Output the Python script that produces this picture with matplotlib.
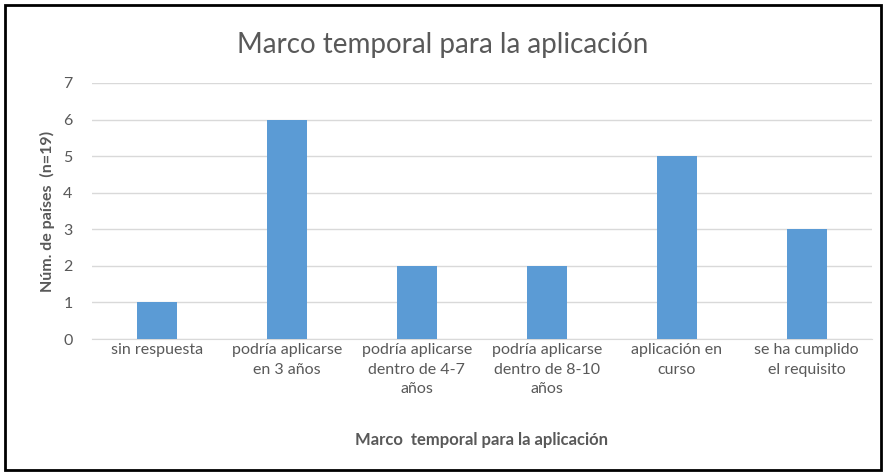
import matplotlib.pyplot as plt
from matplotlib.patches import Rectangle

categorias = ["sin respuesta", "podría aplicarse\nen 3 años", "podría aplicarse\ndentro de 4-7\naños",
              "podría aplicarse\ndentro de 8-10\naños", "aplicación en\ncurso", "se ha cumplido\nel requisito"]
paises = [1, 6, 2, 2, 5, 3]
yticks = [0, 1, 2, 3, 4, 5, 6, 7]

plt.rcParams['font.family'] = ['Lato', 'DejaVu Sans']
gris = "#595959"

fig = plt.figure(figsize=(8.86, 4.75), dpi=100)
ax = fig.add_axes([0.1038, 0.2863, 0.88, 0.539])

x = range(len(categorias))
ax.bar(x, paises, width=0.31, color="#5B9BD5", zorder=3)

ax.set_xlim(-0.5, len(categorias) - 0.5)
ax.set_ylim(0, 7)
ax.set_yticks(yticks)
ax.set_xticks(list(x))
ax.set_xticklabels(categorias)
for lbl in ax.get_xticklabels():
    lbl.set_linespacing(1.5)
ax.tick_params(axis="both", length=0, colors=gris, labelsize=11.5)
ax.tick_params(axis="y", pad=14, labelsize=11.5)
ax.tick_params(axis="x", pad=3)
ax.grid(axis="y", color="#D9D9D9", linewidth=1, zorder=0)
for s in ["top", "right", "left"]:
    ax.spines[s].set_visible(False)
ax.spines["bottom"].set_color("#D9D9D9")

ax.set_xlabel("Marco  temporal para la aplicación", fontsize=12, fontweight="bold", color=gris, labelpad=26)
ax.set_ylabel("Núm. de países  (n=19)", fontsize=11.5, fontweight="bold", color=gris, labelpad=6)
fig.text(0.5, 0.905, "Marco temporal para la aplicación", ha="center", va="center", fontsize=20, color=gris)

fig.patches.append(Rectangle((0.006, 0.011), 0.988, 0.978, transform=fig.transFigure,
                             fill=False, edgecolor="black", linewidth=2))

fig.savefig("out.png", dpi=100)
